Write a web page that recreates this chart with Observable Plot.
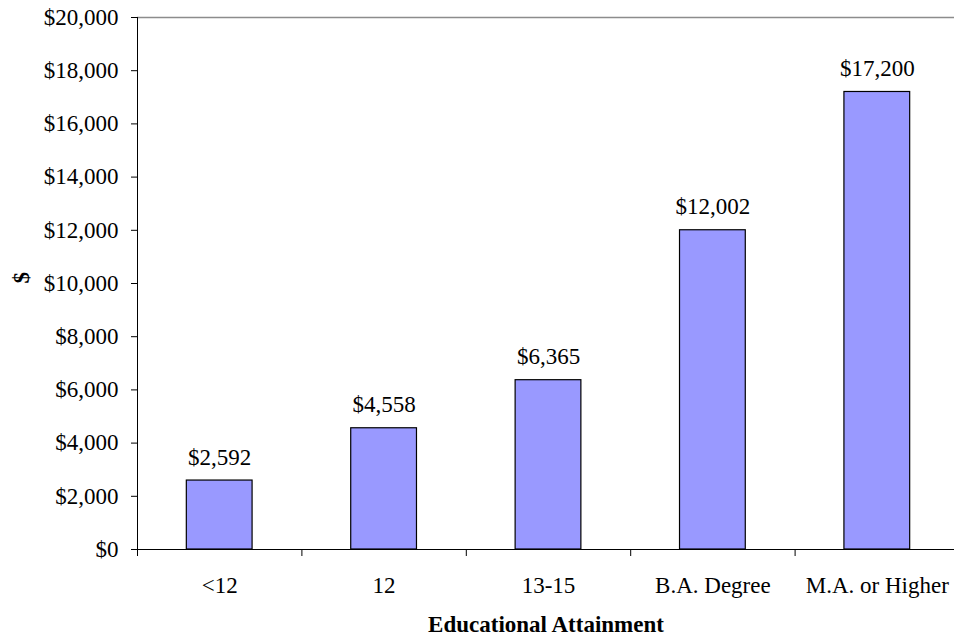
<!DOCTYPE html>
<html>
<head>
<meta charset="utf-8">
<script src="https://cdn.jsdelivr.net/npm/d3@7"></script>
<script src="https://cdn.jsdelivr.net/npm/@observablehq/plot@0.6"></script>
<style>
  html, body { margin: 0; padding: 0; background: white; overflow: hidden; }
</style>
</head>
<body>
<div id="chart"></div>
<script>
const categories = ["<12", "12", "13-15", "B.A. Degree", "M.A. or Higher"];
const values = [2592, 4558, 6365, 12002, 17200];
const yTicks = [0, 2000, 4000, 6000, 8000, 10000, 12000, 14000, 16000, 18000, 20000];
const xTitle = "Educational Attainment";
const yTitle = "$";

const data = categories.map((c, i) => ({i, c, v: values[i]}));
const idx = categories.map((c, i) => i);
const bounds = [-0.5, ...idx.map(i => i + 0.5)];
const money = d => "$" + d3.format(",")(d);
const FONT = 23;

const chart = Plot.plot({
  width: 954,
  height: 636,
  marginTop: 17,
  marginBottom: 87,
  marginLeft: 137,
  marginRight: 0,
  style: {fontFamily: "'Liberation Serif', 'Times New Roman', serif", fontSize: FONT + "px", color: "black", background: "white"},
  x: {type: "linear", domain: [-0.5, categories.length - 0.5], range: [137, 959]},
  y: {domain: [0, 20000]},
  marks: [
    Plot.ruleY([20000], {stroke: "#8c8c8c", strokeWidth: 1.5}),
    Plot.rectY(data, {x1: d => d.i - 0.2, x2: d => d.i + 0.2, y: "v", fill: "#9999FF", stroke: "black", strokeWidth: 1.2}),
    Plot.text(data, {x: "i", y: "v", text: d => money(d.v), lineAnchor: "bottom", dy: -16, fontSize: FONT, fill: "black"}),
    Plot.axisY({ticks: yTicks, tickFormat: money, tickSize: 6, tickPadding: 13, fontSize: FONT, label: null, stroke: "black"}),
    Plot.ruleX([-0.5], {y1: 0, y2: 20000, stroke: "black"}),
    Plot.ruleY([0], {stroke: "black"}),
    Plot.axisX({ticks: bounds, tickSize: 7, tickFormat: () => "", label: null, stroke: "black"}),
    Plot.axisX({ticks: idx, tickSize: 0, tickPadding: 27, tickFormat: i => categories[i], fontSize: FONT, label: null}),
    Plot.text([xTitle], {frameAnchor: "bottom", dy: 82, lineAnchor: "bottom", fontWeight: "bold", fontSize: FONT, fill: "black"}),
    Plot.text([yTitle], {frameAnchor: "left", dx: -116, rotate: -90, lineAnchor: "middle", fontWeight: "bold", fontSize: FONT, fill: "black"})
  ]
});
document.getElementById("chart").append(chart);
</script>
</body>
</html>
